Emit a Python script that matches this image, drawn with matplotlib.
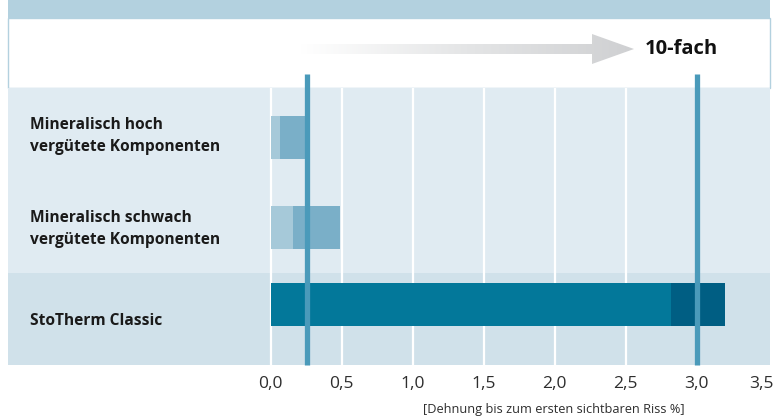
import numpy as np
import matplotlib
matplotlib.use("Agg")
import matplotlib.pyplot as plt
import matplotlib.transforms as mtransforms
from matplotlib.patches import Rectangle, Polygon
from matplotlib.colors import LinearSegmentedColormap

# ---------------- data ----------------
categories = ["Mineralisch hoch\nvergütete Komponenten",
              "Mineralisch schwach\nvergütete Komponenten",
              "StoTherm Classic"]
first_segment = [0.065, 0.157, 2.82]     # lower bound of range
total_values = [0.24, 0.49, 3.20]        # upper bound of range
ref_lines = [0.254, 3.0]
ticks = [0.0, 0.5, 1.0, 1.5, 2.0, 2.5, 3.0, 3.5]
tick_labels = ["0,0", "0,5", "1,0", "1,5", "2,0", "2,5", "3,0", "3,5"]
grid_values = [0.0, 0.5, 1.0, 1.5, 2.0, 2.5, 3.0]
factor_label = "10-fach"
x_label = "[Dehnung bis zum ersten sichtbaren Riss %]"

# ---------------- style ----------------
plt.rcParams['font.family'] = ['Open Sans', 'DejaVu Sans']
c_band = "#b3d1df"
c_row_a = "#e0ebf2"
c_row_b = "#d0e1ea"
c_light = ["#a6c9d9", "#a6c9d9", "#03789a"]
c_dark = ["#7aafc8", "#7aafc8", "#005e83"]
c_ref = "#4a9aba"
c_text = "#1a1a1a"
c_tick = "#2e2e2e"

W, H = 778, 417
fig = plt.figure(figsize=(W / 100, H / 100), dpi=100)

def fx(px):
    return px / W

def fy(py):
    return 1 - py / H

L, R, T, B = 8, 770, 88, 365
x0px, upx = 270.7, 142.0
xmin = (L - x0px) / upx
xmax = (R - x0px) / upx

# background overlay (pixel coordinates) for header elements
ov = fig.add_axes([0, 0, 1, 1], zorder=0)
ov.axis("off")

ov.add_patch(Rectangle((L, 0), R - L, 18, facecolor=c_band, edgecolor="none"))
ov.add_patch(Rectangle((L, 18), R - L, 70, facecolor="white", edgecolor=c_band, lw=1))

arrow_pts = [(300, 44), (592, 44), (592, 34), (634, 49), (592, 64), (592, 54), (300, 54)]
poly = Polygon(arrow_pts, closed=True, facecolor="none", edgecolor="none")
ov.add_patch(poly)
cmap = LinearSegmentedColormap.from_list("g", ["#ffffff", "#e4e5e6", "#cfd0d2"])
grad = np.linspace(0, 1, 256).reshape(1, -1)
im = ov.imshow(grad, extent=(300, 634, 64, 34), cmap=cmap, aspect="auto", zorder=2)
im.set_clip_path(poly)
ov.set_xlim(0, W)
ov.set_ylim(H, 0)

# main axes
ax = fig.add_axes([fx(L), fy(B), fx(R) - fx(L), fy(T) - fy(B)], zorder=1)
ax.set_facecolor("none")
ax.set_xlim(xmin, xmax)
ax.set_ylim(B, T)

ax.axhspan(T, 273, xmin=0, xmax=1, color=c_row_a, zorder=0, lw=0)
ax.axhspan(273, B, xmin=0, xmax=1, color=c_row_b, zorder=0, lw=0)

ax.vlines(grid_values, T, B, colors="white", lw=1.6, zorder=1)

bar_pos = [137.5, 227.5, 304.5]
label_pos = [136, 229, 321]
bar_h = 43
ax.barh(bar_pos, first_segment, height=bar_h, color=c_light, zorder=2, lw=0)
ax.barh(bar_pos, np.array(total_values) - np.array(first_segment),
        left=first_segment, height=bar_h, color=c_dark, zorder=2, lw=0)

ax.vlines(ref_lines, 74, B, colors=c_ref, lw=3.8, zorder=4, clip_on=False)

for s in ax.spines.values():
    s.set_visible(False)
ax.set_yticks([])
ax.set_xticks(ticks, tick_labels)
ax.tick_params(axis="x", length=0, pad=8, labelsize=12.5, labelcolor=c_tick)

# nudge the last tick label inward so it stays inside the figure
last = ax.get_xticklabels()[-1]
last.set_transform(last.get_transform() +
                   mtransforms.ScaledTranslation(-6 / 100, 0, fig.dpi_scale_trans))

# foreground overlay for texts
fg = fig.add_axes([0, 0, 1, 1], zorder=2)
fg.set_facecolor("none")
fg.axis("off")
fg.set_xlim(0, W)
fg.set_ylim(H, 0)

fg.text(645, 49, factor_label, ha="left", va="center", fontsize=14.5,
        fontweight="bold", color="#111111")

for lab, yp in zip(categories, label_pos):
    fg.text(30, yp, lab, ha="left", va="center", fontsize=11.2,
            fontweight="bold", color=c_text, linespacing=1.5)

fg.text(554, 409, x_label, ha="center", va="center", fontsize=9.2, color=c_tick)

fig.savefig("out.png", dpi=100)
